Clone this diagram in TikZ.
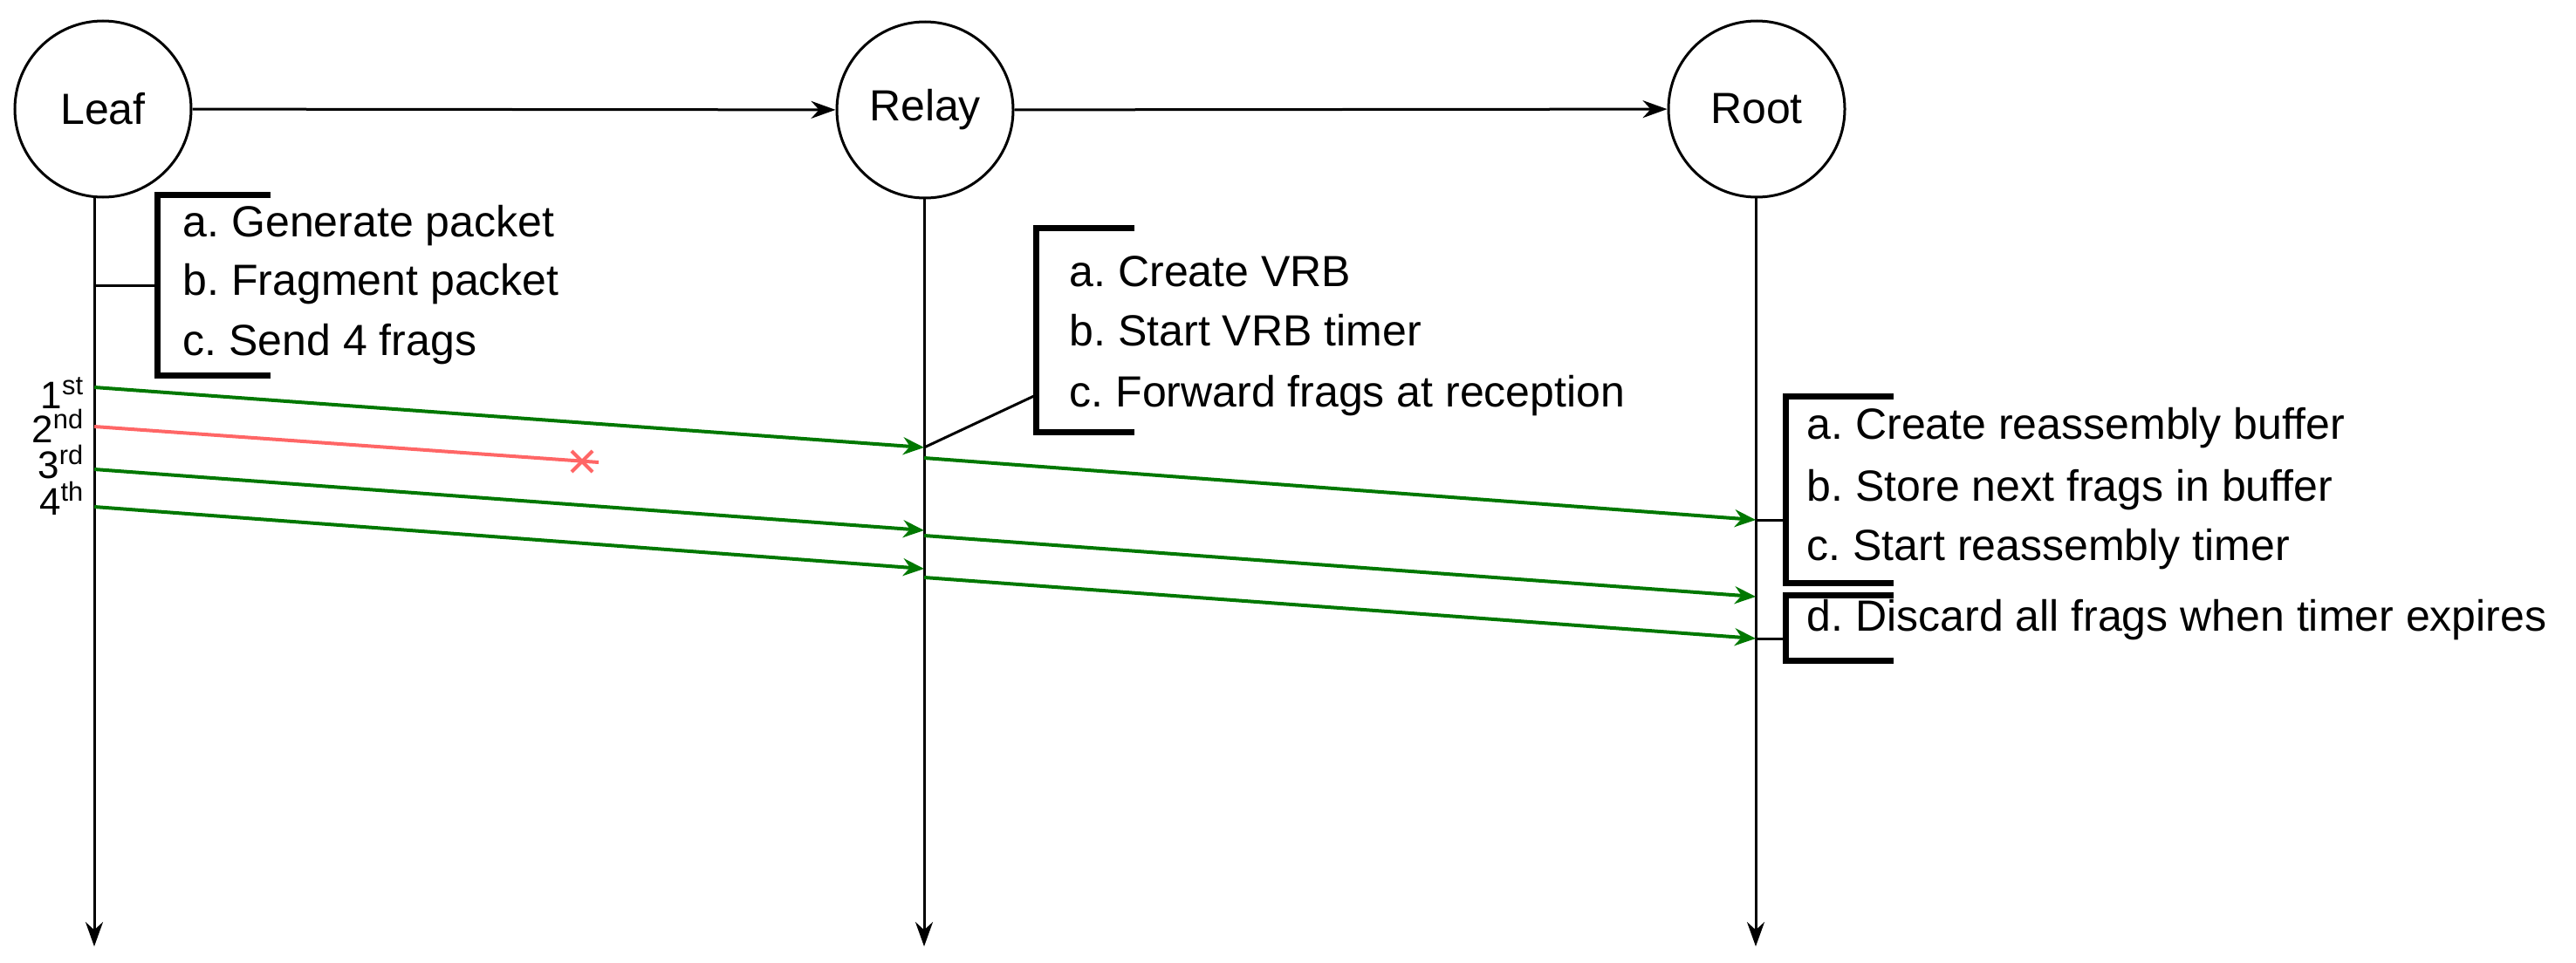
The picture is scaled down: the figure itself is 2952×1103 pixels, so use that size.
\documentclass[tikz,border=0pt]{standalone}
\usepackage{fontspec}
\setmainfont{Liberation Sans}
\usetikzlibrary{arrows.meta}
\frenchspacing
\begin{document}
\begin{tikzpicture}[x=0.25pt,y=-0.25pt,
  every node/.style={font=\fontsize{12.5}{15}\selectfont},
  ent/.style={circle,draw,line width=0.75pt,minimum size=50.5pt,inner sep=0pt},
  life/.style={line width=0.75pt,-{Stealth[length=7pt,width=5pt]}},
  msg/.style={line width=0.75pt,-{Stealth[length=7pt,width=5pt]}},
  frag/.style={line width=1pt,draw=grn,-{Stealth[length=6pt,width=5pt]}},
  lost/.style={line width=1pt,draw=lred},
  brk/.style={line width=1.75pt},
  thin/.style={line width=0.75pt},
  txt/.style={anchor=base west,inner sep=0pt},
  ord/.style={anchor=base east,inner sep=0pt,font=\fontsize{11}{12}\selectfont}]
\definecolor{grn}{RGB}{0,120,0}
\definecolor{lred}{RGB}{255,102,102}
\useasboundingbox (0,0) rectangle (2952,1103);
\node[ent] (leaf) at (118,125) {Leaf};
\node[ent] (relay) at (1060,126) {Relay};
\node[ent] (root) at (2013,125) {Root};
\draw[msg] (leaf) -- (relay);
\draw[msg] (relay) -- (root);
% lifelines
\coordinate (lt) at (108,224); \coordinate (lb) at (108,1085);
\coordinate (rt) at (1059,227); \coordinate (rb) at (1059,1085);
\coordinate (ot) at (2012,227); \coordinate (ob) at (2012,1085);
\draw[life] (lt) -- (lb);
\draw[life] (rt) -- (rb);
\draw[life] (ot) -- (ob);
% leaf bracket
\draw[brk] (310,223) -- (180,223) -- (180,430) -- (310,430);
\coordinate (lc) at (108,327); \coordinate (lcb) at (180,327);
\draw[thin] (lc) -- (lcb);
\node[txt] (la) at (209,271) {a. Generate packet};
\node[txt] (lbx) at (209,338) {b. Fragment packet};
\node[txt] (lcx) at (209,407) {c. Send 4 frags};
% relay bracket
\draw[brk] (1300,261) -- (1187,261) -- (1187,495) -- (1300,495);
\node[txt] (ra) at (1225,328) {a. Create VRB};
\node[txt] (rbx) at (1225,396) {b. Start VRB timer};
\node[txt] (rcx) at (1225,466) {c. Forward frags at reception};
% root brackets
\draw[brk] (2170,454) -- (2046,454) -- (2046,668) -- (2170,668);
\draw[brk] (2170,682) -- (2046,682) -- (2046,757) -- (2170,757);
\node[txt] (oa) at (2070,503) {a. Create reassembly buffer};
\node[txt] (obx) at (2070,574) {b. Store next frags in buffer};
\node[txt] (ocx) at (2070,642) {c. Start reassembly timer};
\node[txt] (odx) at (2070,723) {d. Discard all frags when timer expires};
% fragment points
\coordinate (s1) at (108,444); \coordinate (s2) at (108,489);
\coordinate (s3) at (108,538); \coordinate (s4) at (108,581);
\coordinate (a1) at (1059,513); \coordinate (a3) at (1059,608); \coordinate (a4) at (1059,652);
\coordinate (d1) at (1059,525); \coordinate (d3) at (1059,614); \coordinate (d4) at (1059,662);
\coordinate (e1) at (2012,596); \coordinate (e3) at (2012,684); \coordinate (e4) at (2012,732);
\coordinate (x2) at (686,530);
\coordinate (rc1) at (1187,453); \coordinate (oc1) at (2046,596); \coordinate (oc2) at (2046,732);
\draw[frag] (s1) -- (a1);
\draw[frag] (s3) -- (a3);
\draw[frag] (s4) -- (a4);
\draw[frag] (d1) -- (e1);
\draw[frag] (d3) -- (e3);
\draw[frag] (d4) -- (e4);
\draw[lost] (s2) -- (x2);
\draw[lost] (655,517) -- (679,541) (655,541) -- (679,517);
\draw[thin] (a1) -- (rc1);
\draw[thin] (e1) -- (oc1);
\draw[thin] (e4) -- (oc2);
% ordinals
\node[ord] (o1) at (98,468) {1\textsuperscript{st}};
\node[ord] (o2) at (98,507) {2\textsuperscript{nd}};
\node[ord] (o3) at (98,548) {3\textsuperscript{rd}};
\node[ord] (o4) at (98,590) {4\textsuperscript{th}};
\end{tikzpicture}
\end{document}
